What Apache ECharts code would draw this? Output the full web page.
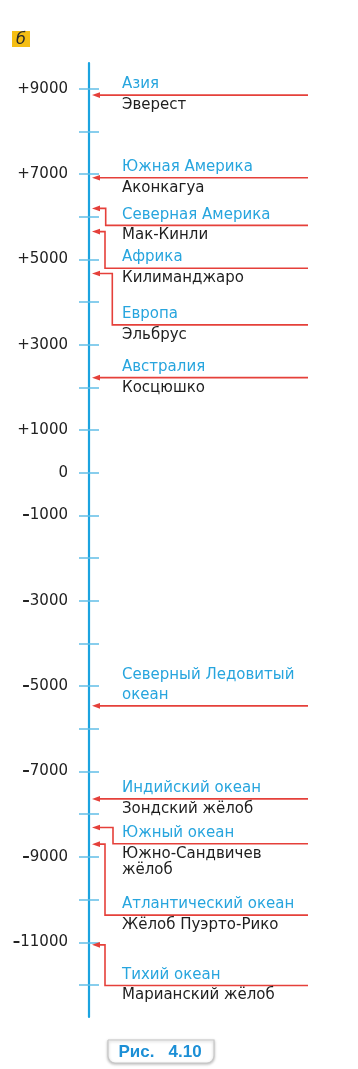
<!DOCTYPE html>
<html><head><meta charset="utf-8">
<script src="https://cdn.jsdelivr.net/npm/echarts@6/dist/echarts.min.js"></script>
<style>html,body{margin:0;padding:0;background:#fff}#c{width:358px;height:1069px}</style>
</head><body><div id="c"></div>
<script>
// ---- data ----
const regions = ['Азия','Южная Америка','Северная Америка','Африка','Европа','Австралия',
  'Северный Ледовитый\nокеан','Индийский океан','Южный океан','Атлантический океан','Тихий океан'];
const places = ['Эверест','Аконкагуа','Мак-Кинли','Килиманджаро','Эльбрус','Косцюшко',
  '','Зондский жёлоб','Южно-Сандвичев\nжёлоб','Жёлоб Пуэрто-Рико','Марианский жёлоб'];
const elevations = [8848, 6910, 6194, 5650, 4670, 2228, -5460, -7640, -8310, -8700, -11060];
const tickValues = [9000,8000,7000,6000,5000,4000,3000,2000,1000,0,-1000,-2000,-3000,-4000,-5000,-6000,-7000,-8000,-9000,-10000,-11000,-12000];
const labelValues = [9000,7000,5000,3000,1000,0,-1000,-3000,-5000,-7000,-9000,-11000];
const tickLabels = ['+9000','+7000','+5000','+3000','+1000','0','–1000','–3000','–5000','–7000','–9000','–11000'];

// ---- layout (pixels, not data) ----
const leaderDy = [0,0,17,36.6,51.4,0,0,0,16.3,71,40.7];
const leaderDx = [0,0,16.7,16,23.3,0,0,0,24,16,16];

const RED = '#e5403a', BLUE = '#27a5de', BLACK = '#1e1e1e';
const FONT = '15px "DejaVu Sans"';

const chart = echarts.init(document.getElementById('c'), null, {renderer:'canvas'});
const axisCommon = {type:'value', min:-12750, max:9600, position:'left', splitLine:{show:false}};
chart.setOption({
  animation:false,
  grid:{left:89, right:50, top:63, height:954, containLabel:false},
  xAxis:{type:'value', min:0, max:1, show:false},
  yAxis:[
    Object.assign({}, axisCommon, {
      axisLine:{show:true, lineStyle:{color:'#1ba3e0', width:2.2}},
      axisTick:{show:true, inside:false, length:10, customValues:tickValues, lineStyle:{color:'#62bfe8', width:1.5}},
      axisLabel:{show:true, margin:21, customValues:labelValues, color:'#222', fontSize:15, fontFamily:'DejaVu Sans',
        rich:{d:{fontSize:15, fontFamily:'DejaVu Sans', fontWeight:'bold', color:'#222'}},
        formatter:v => {
          const s = tickLabels[labelValues.indexOf(v)] ?? '';
          return s.charAt(0) === '–' ? '{d|–}' + s.slice(1) : s;
        }}
    }),
    Object.assign({}, axisCommon, {
      axisLine:{show:false},
      axisTick:{show:true, inside:true, length:10, customValues:tickValues, lineStyle:{color:'#62bfe8', width:1.5}},
      axisLabel:{show:false}
    })
  ],
  series:[{
    type:'custom',
    coordinateSystem:'cartesian2d',
    data: elevations.map(v => [0, v]),
    encode:{x:0, y:1},
    clip:false,
    renderItem:(params, api) => {
      const i = params.dataIndex;
      const p = api.coord([0, api.value(1)]);
      const cs = params.coordSys;
      const ax = p[0], ay = p[1];
      const endX = cs.x + cs.width;
      const tipX = ax + 3, head = 8;
      const lineY = ay + leaderDy[i];
      const pts = leaderDy[i] === 0
        ? [[endX, lineY], [tipX + head - 1, lineY]]
        : [[endX, lineY], [ax + leaderDx[i], lineY], [ax + leaderDx[i], ay], [tipX + head - 1, ay]];
      const children = [
        {type:'polyline', shape:{points:pts}, style:{stroke:RED, lineWidth:1.6, fill:null}},
        {type:'polygon', shape:{points:[[tipX, ay],[tipX + head, ay - 2.8],[tipX + head, ay + 2.8]]}, style:{fill:RED}},
        {type:'text', style:{x:ax + 33, y:lineY - 1, text:regions[i], fill:BLUE, font:FONT, verticalAlign:'bottom', align:'left', lineHeight:19.5}}
      ];
      if (places[i]) children.push({type:'text', style:{x:ax + 33, y:lineY + 2, text:places[i], fill:BLACK, font:FONT, verticalAlign:'top', align:'left', lineHeight:16}});
      return {type:'group', children};
    }
  }],
  graphic:[
    {type:'rect', shape:{x:12, y:31, width:18, height:16}, style:{fill:'#f5be14'}},
    {type:'text', style:{x:21, y:39.5, text:'б', fill:'#2a2a2a', font:'italic 16px "DejaVu Sans"', align:'center', verticalAlign:'middle'}},
    {type:'rect', shape:{x:108, y:1040, width:106, height:23, r:[0,0,7,7]}, style:{fill:'#fff', stroke:'#c8c8c8', lineWidth:1.2, shadowBlur:3, shadowColor:'rgba(0,0,0,0.25)', shadowOffsetY:1}},
    {type:'text', style:{x:160, y:1052, text:'Рис.   4.10', fill:'#1c8fd6', font:'bold 17px "Liberation Sans"', align:'center', verticalAlign:'middle'}}
  ]
});
</script></body></html>
